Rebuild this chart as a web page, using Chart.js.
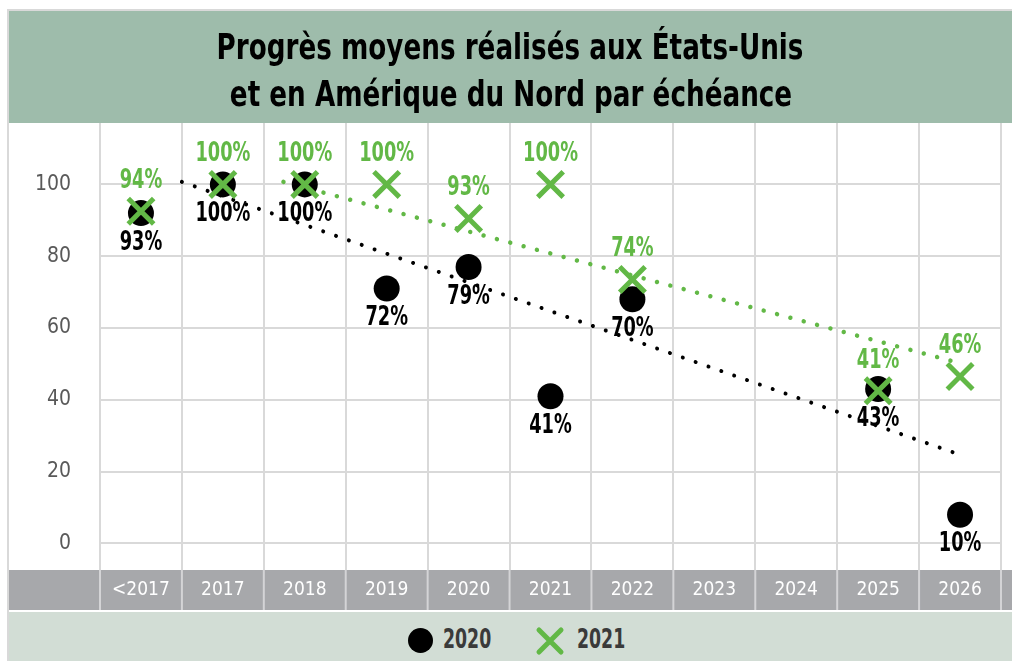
<!DOCTYPE html>
<html>
<head>
<meta charset="utf-8">
<script src="https://cdn.jsdelivr.net/npm/chart.js@4.4.1/dist/chart.umd.min.js"></script>
<style>
  body { margin: 0; background: #fff; }
  #wrap { position: relative; width: 1012px; height: 661px; overflow: hidden; }
  #chart { position: absolute; left: 0; top: 0; }
  #legend { position: absolute; left: 9px; top: 612px; width: 1003px; height: 49px; background: #d2ddd5; }
  .item { position: absolute; top: 3px; height: 49px; line-height: 49px; font-family: 'DejaVu Sans Condensed', sans-serif; font-weight: bold; font-size: 26px; color: #3a3a3a; transform: scaleX(0.74); transform-origin: 0 50%; }
  .dot { position: absolute; width: 25px; height: 25px; border-radius: 50%; background: #000; top: 16px; }
  .cross { position: absolute; top: 14px; }
</style>
</head>
<body>
<div id="wrap">
  <canvas id="chart" width="1012" height="661"></canvas>
  <div id="legend">
    <div class="dot" style="left:399px"></div>
    <div class="item" style="left:434px">2020</div>
    <svg class="cross" style="left:526px" width="30" height="30"><path d="M4 4 L26 26 M26 4 L4 26" stroke="#62b846" stroke-width="5" stroke-linecap="round"/></svg>
    <div class="item" style="left:568px">2021</div>
  </div>
</div>
<script>
var titleLines = ["Progrès moyens réalisés aux États-Unis", "et en Amérique du Nord par échéance"];
var categories = ["<2017", "2017", "2018", "2019", "2020", "2021", "2022", "2023", "2024", "2025", "2026"];
var yTicks = [0, 20, 40, 60, 80, 100];

var values2020 = [92, 100, 100, 71, 77, 41, 68, null, null, 43, 8];
var labels2020 = ["93%", "100%", "100%", "72%", "79%", "41%", "70%", "", "", "43%", "10%"];
var values2021 = [92.5, 100, 100, 100, 90.5, 100, 73.5, null, null, 42.5, 46.5];
var labels2021 = ["94%", "100%", "100%", "100%", "93%", "100%", "74%", "", "", "41%", "46%"];

// dotted trend lines (category index, value)
var trendX2020 = [0.5, 10];
var trendY2020 = [100.7, 24.7];
var trendX2021 = [1.74, 10];
var trendY2021 = [100.7, 50.2];

var font = "'DejaVu Sans Condensed', sans-serif";
var green = '#62b846';
var gridColor = '#d9d9d9';

function pairs(xs, ys) {
	var out = [];
	for (var i in xs) {
		out.push({x: xs[i], y: ys[i]});
	}
	return out;
}

// narrow text: the original uses a condensed face
function narrowText(c, text, x, y, sx) {
	c.save();
	c.translate(x, y);
	c.scale(sx, 1);
	c.fillText(text, 0, 0);
	c.restore();
}

var bands = {
	id: 'bands',
	beforeDraw: function(chart) {
		var c = chart.ctx, a = chart.chartArea;
		c.save();
		c.fillStyle = '#fff';
		c.fillRect(0, 0, chart.width, chart.height);
		c.fillStyle = gridColor;
		c.fillRect(7, 9, 2, chart.height - 9);
		c.fillRect(7, 9, chart.width - 7, 2);
		c.fillStyle = '#9ebcab';
		c.fillRect(9, 11, chart.width - 9, a.top - 11);
		c.fillStyle = '#a7a8ab';
		c.fillRect(9, a.bottom, chart.width - 9, 40);
		c.fillStyle = '#d4d4d6';
		var x2 = chart.scales.x2;
		for (var i = 0; i <= categories.length; i++) {
			var px = x2.getPixelForValue(i - 0.5);
			c.fillRect(px - 1, a.bottom, 2, 40);
		}
		// title
		c.fillStyle = '#000';
		c.font = 'bold 36px ' + font;
		c.textAlign = 'center';
		c.textBaseline = 'alphabetic';
		narrowText(c, titleLines[0], 510, 59, 0.81);
		narrowText(c, titleLines[1], 511, 106, 0.81);
		c.restore();
	}
};

var dataLabels = {
	id: 'dataLabels',
	afterDatasetsDraw: function(chart) {
		var c = chart.ctx;
		var sets = [[0, labels2020, '#000', 30], [1, labels2021, green, -30]];
		c.save();
		c.font = 'bold 26px ' + font;
		c.textAlign = 'center';
		c.textBaseline = 'middle';
		sets.forEach(function(s) {
			var meta = chart.getDatasetMeta(s[0]);
			c.fillStyle = s[2];
			meta.data.forEach(function(pt, i) {
				if (chart.data.datasets[s[0]].data[i] === null) return;
				narrowText(c, s[1][i], pt.x, pt.y + s[3], 0.76);
			});
		});
		c.restore();
	}
};

var ctx = document.getElementById('chart');
var chart = new Chart(ctx, {
	type: 'line',
	data: {
		labels: categories,
		datasets: [
			{
				label: '2020',
				data: values2020,
				showLine: false,
				pointStyle: 'circle',
				pointRadius: 13,
				pointHoverRadius: 13,
				pointBackgroundColor: '#000',
				pointBorderWidth: 0,
				order: 2
			},
			{
				label: '2021',
				data: values2021,
				showLine: false,
				pointStyle: 'crossRot',
				pointRadius: 18,
				pointHoverRadius: 18,
				pointBorderColor: green,
				pointBorderWidth: 5,
				order: 1
			},
			{
				label: 'Tendance 2020',
				data: pairs(trendX2020, trendY2020),
				xAxisID: 'x2',
				borderColor: '#000',
				borderWidth: 4,
				borderDash: [0.01, 13.6],
				borderCapStyle: 'round',
				pointRadius: 0,
				order: 3
			},
			{
				label: 'Tendance 2021',
				data: pairs(trendX2021, trendY2021),
				xAxisID: 'x2',
				borderColor: green,
				borderWidth: 4.5,
				borderDash: [0.01, 13.8],
				borderCapStyle: 'round',
				pointRadius: 0,
				order: 3
			}
		]
	},
	options: {
		responsive: false,
		animation: false,
		layout: { autoPadding: false, padding: { top: 123, left: 19, right: 11, bottom: 51 } },
		scales: {
			x: {
				type: 'category',
				offset: true,
				grid: { offset: true, color: gridColor, lineWidth: 2, drawTicks: false },
				border: { display: false },
				ticks: { color: '#fff', font: { family: font, size: 19 }, padding: 9, maxRotation: 0, autoSkip: false },
				afterFit: function(s) {
					s.height = 40;
					s.paddingLeft = 0;
					s.paddingRight = 0;
				}
			},
			x2: { type: 'linear', display: false, min: -0.5, max: 10.5 },
			y: {
				min: -7.4,
				max: 117.1,
				afterBuildTicks: function(s) {
					s.ticks = yTicks.map(function(v) { return {value: v}; });
				},
				grid: { color: gridColor, lineWidth: 2, drawTicks: false },
				border: { display: false },
				ticks: { color: '#595959', font: { family: font, size: 21 }, padding: 29 },
				afterFit: function(s) { s.width = 81; }
			}
		},
		plugins: {
			legend: { display: false },
			tooltip: { enabled: false },
			title: { display: false }
		}
	},
	plugins: [bands, dataLabels]
});
</script>
</body>
</html>
